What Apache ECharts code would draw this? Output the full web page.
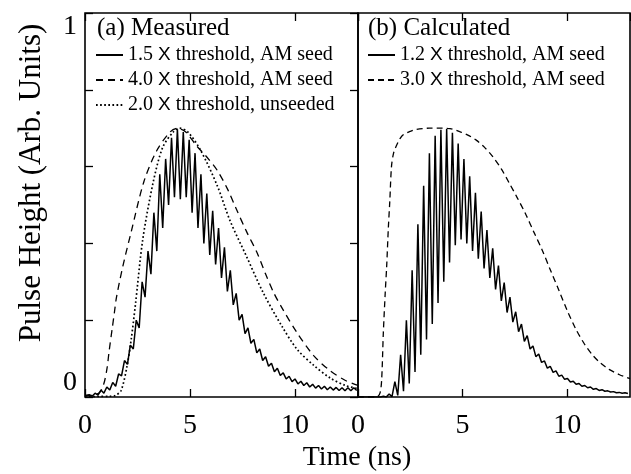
<!DOCTYPE html>
<html><head><meta charset="utf-8">
<script src="https://cdn.jsdelivr.net/npm/echarts@6.0.0/dist/echarts.min.js"></script>
<style>html,body{margin:0;padding:0;background:#fff}#c{width:631px;height:474px}</style>
</head><body><div id="c"></div><script>
// ---------- data ----------
const xTickLabels = ['0', '5', '10'];
const yTickLabels = ['0', '1'];
const panelTitles = ['(a) Measured', '(b) Calculated'];
const measuredNames = ['1.5 X threshold, AM seed', '4.0 X threshold, AM seed', '2.0 X threshold, unseeded'];
const calcNames = ['1.2 X threshold, AM seed', '3.0 X threshold, AM seed'];

// (a) 1.5 X threshold, AM seed : samples every half oscillation period (ns), starting at t0
const measuredSolidT0 = 0.2, measuredSolidDt = 0.14;
const measuredSolid = [
  0.006,0.002,0.01,0.005,0.018,0.01,0.026,0.018,0.038,0.028,
  0.06,0.055,0.095,0.085,0.135,0.125,0.2,0.18,0.3,0.26,
  0.38,0.32,0.48,0.38,0.58,0.44,0.62,0.5,0.675,0.52,
  0.697,0.515,0.69,0.52,0.67,0.48,0.635,0.44,0.58,0.4,
  0.53,0.37,0.485,0.345,0.44,0.31,0.39,0.275,0.33,0.24,
  0.27,0.2,0.215,0.165,0.18,0.14,0.15,0.115,0.125,0.095,
  0.105,0.08,0.088,0.066,0.075,0.056,0.063,0.047,0.054,0.04,
  0.047,0.034,0.041,0.03,0.037,0.026,0.033,0.023,0.03,0.021,
  0.028,0.019,0.026,0.018,0.025,0.017,0.024,0.016,0.024,0.016,
  0.024,0.017
];
// (a) 4.0 X threshold, AM seed : [time ns, height]
const measuredDashed = [
  [0,0.003],[0.4,0.005],[0.7,0.012],[0.9,0.035],[1.05,0.075],[1.15,0.12],[1.3,0.18],[1.4,0.22],
  [1.5,0.26],[1.8,0.34],[2.2,0.43],[2.8,0.56],[3.4,0.64],[4.05,0.69],[4.4,0.70],[4.8,0.69],
  [5.3,0.655],[5.8,0.625],[6.3,0.59],[6.8,0.54],[7.2,0.49],[7.7,0.43],[8.2,0.375],[8.6,0.32],
  [9.0,0.27],[9.4,0.23],[10.1,0.167],[10.9,0.107],[11.66,0.069],[12.4,0.043],[13,0.03]
];
// (a) 2.0 X threshold, unseeded
const measuredDotted = [
  [0,0.001],[1.2,0.002],[1.45,0.004],[1.72,0.017],[2.0,0.08],[2.2,0.15],[2.4,0.24],[2.75,0.41],
  [3.25,0.56],[3.7,0.65],[4.2,0.69],[4.5,0.70],[4.9,0.69],[5.5,0.643],[6.3,0.55],[6.9,0.46],
  [7.7,0.365],[8.5,0.27],[9.37,0.185],[10.1,0.124],[10.9,0.082],[11.66,0.05],[12.4,0.03],[13,0.022]
];
// (b) 1.2 X threshold, AM seed : samples every half oscillation period (ns), starting at t0
const calcSolidT0 = 0.1125, calcSolidDt = 0.1375;
const calcSolid = [
  0,0,0,0,0,0,0,0,0.002,0,
  0.008,0.001,0.04,0.004,0.11,0.015,0.2,0.035,0.33,0.065,
  0.45,0.11,0.55,0.15,0.635,0.19,0.68,0.245,0.696,0.3,
  0.698,0.35,0.688,0.395,0.66,0.41,0.62,0.4,0.575,0.38,
  0.532,0.36,0.483,0.335,0.435,0.31,0.387,0.28,0.342,0.25,
  0.298,0.22,0.26,0.195,0.222,0.17,0.19,0.145,0.16,0.125,
  0.133,0.105,0.112,0.09,0.094,0.075,0.08,0.064,0.068,0.054,
  0.057,0.046,0.048,0.039,0.041,0.033,0.035,0.028,0.03,0.024,
  0.026,0.02,0.022,0.017,0.019,0.015,0.016,0.013,0.014,0.011,
  0.012,0.01,0.011,0.009
];
// (b) 3.0 X threshold, AM seed
const calcDashed = [
  [0,0],[0.9,0],[1.05,0.01],[1.13,0.044],[1.21,0.166],[1.3,0.27],[1.37,0.34],[1.45,0.44],
  [1.52,0.51],[1.6,0.6],[1.7,0.635],[1.84,0.655],[2.0,0.672],[2.16,0.683],[2.5,0.692],[2.8,0.697],
  [3.4,0.7],[4.0,0.7],[4.4,0.699],[4.86,0.691],[5.25,0.682],[5.65,0.669],[6.05,0.65],[6.44,0.626],
  [6.85,0.594],[7.24,0.556],[7.6,0.52],[8.0,0.478],[8.4,0.43],[8.8,0.383],[9.2,0.33],[9.6,0.278],
  [10.0,0.225],[10.4,0.178],[10.8,0.14],[11.2,0.11],[11.6,0.088],[12.0,0.072],[12.5,0.058],[13.0,0.048]
];

// ---------- build ----------
function grid(values, t0, dt, lead) {
  return lead.concat(values.map((v, i) => [+(t0 + i * dt).toFixed(4), v]));
}
const SERIF = 'Liberation Serif';
const black = '#000';

const xBase = (gi, pos) => ({
  gridIndex: gi, type: 'value', min: 0, max: 13, interval: 5, position: pos,
  axisLine: { show: false },
  axisTick: { show: true, inside: true, length: 8, lineStyle: { color: black, width: 1.3 } },
  axisLabel: pos === 'bottom' ? {
    show: true, margin: 15, fontSize: 28, fontFamily: SERIF, color: black,
    showMaxLabel: false,
    formatter: v => { const i = [0, 5, 10].indexOf(v); return i >= 0 ? xTickLabels[i] : ''; }
  } : { show: false },
  splitLine: { show: false }
});

const legendText = {
  fontFamily: SERIF, fontSize: 20, color: black, lineHeight: 20,
  rich: { x: { fontFamily: 'Liberation Sans', fontSize: 19, color: black, lineHeight: 20 } }
};
const legendBase = (names, left) => ({
  data: names, left: left, top: 45, orient: 'vertical', padding: 0,
  itemWidth: 27, itemHeight: 12, itemGap: 5, selectedMode: false,
  itemStyle: { opacity: 0, borderWidth: 0 },
  textStyle: legendText,
  formatter: n => n.replace(' X ', ' {x|X} ')
});

const option = {
  animation: false,
  backgroundColor: '#fff',
  title: [
    { text: panelTitles[0], left: 97, top: 16, padding: 0,
      textStyle: { fontFamily: SERIF, fontSize: 25, fontWeight: 'normal', color: black } },
    { text: panelTitles[1], left: 368, top: 16, padding: 0,
      textStyle: { fontFamily: SERIF, fontSize: 25, fontWeight: 'normal', color: black } }
  ],
  legend: [legendBase(measuredNames, 95), legendBase(calcNames, 367)],
  grid: [
    { left: 85, top: 13, width: 273, height: 384, show: true, borderColor: black, borderWidth: 1.6, backgroundColor: 'transparent' },
    { left: 358, top: 13, width: 272, height: 384, show: true, borderColor: black, borderWidth: 1.6, backgroundColor: 'transparent' }
  ],
  xAxis: [xBase(0, 'bottom'), xBase(0, 'top'), xBase(1, 'bottom'), xBase(1, 'top')],
  yAxis: [
    { gridIndex: 0, type: 'value', min: 0, max: 1, interval: 0.2, position: 'left',
      axisLine: { show: false },
      axisTick: { show: true, inside: true, length: 8, lineStyle: { color: black, width: 1.3 } },
      axisLabel: { show: true, margin: 8, fontSize: 28, fontFamily: SERIF, color: black,
        verticalAlignMinLabel: 'bottom', verticalAlignMaxLabel: 'top',
        formatter: v => v === 0 ? yTickLabels[0] : (v === 1 ? yTickLabels[1] : '') },
      splitLine: { show: false },
      name: 'Pulse Height (Arb. Units)', nameLocation: 'middle', nameGap: 38,
      nameTextStyle: { fontFamily: SERIF, fontSize: 31, color: black, padding: [0, 0, 0, 44] } },
    { gridIndex: 1, type: 'value', min: 0, max: 1, interval: 0.2, position: 'right',
      axisLine: { show: false },
      axisTick: { show: true, inside: true, length: 8, lineStyle: { color: black, width: 1.3 } },
      axisLabel: { show: false }, splitLine: { show: false } }
  ],
  graphic: [
    { type: 'text', x: 357, y: 458,
      style: { text: 'Time (ns)', font: '28px "Liberation Serif"', fill: black,
               align: 'center', verticalAlign: 'middle', textAlign: 'center', textVerticalAlign: 'middle' } }
  ],
  series: [
    { name: measuredNames[0], type: 'line', xAxisIndex: 0, yAxisIndex: 0, symbol: 'none', showSymbol: false,
      data: grid(measuredSolid, measuredSolidT0, measuredSolidDt, [[0, 0.004]]),
      lineStyle: { color: black, width: 1.5 }, itemStyle: { color: black } },
    { name: measuredNames[1], type: 'line', xAxisIndex: 0, yAxisIndex: 0, symbol: 'none', showSymbol: false, smooth: 0.3,
      data: measuredDashed,
      lineStyle: { color: black, width: 1.3, type: [7, 5] }, itemStyle: { color: black } },
    { name: measuredNames[2], type: 'line', xAxisIndex: 0, yAxisIndex: 0, symbol: 'none', showSymbol: false, smooth: 0.3,
      data: measuredDotted,
      lineStyle: { color: black, width: 1.7, type: [1.7, 2.4] }, itemStyle: { color: black } },
    { name: calcNames[0], type: 'line', xAxisIndex: 2, yAxisIndex: 1, symbol: 'none', showSymbol: false,
      data: grid(calcSolid, calcSolidT0, calcSolidDt, [[0, 0]]),
      lineStyle: { color: black, width: 1.5 }, itemStyle: { color: black } },
    { name: calcNames[1], type: 'line', xAxisIndex: 2, yAxisIndex: 1, symbol: 'none', showSymbol: false, smooth: 0.3,
      data: calcDashed,
      lineStyle: { color: black, width: 1.3, type: [6, 4] }, itemStyle: { color: black } }
  ]
};
const chart = echarts.init(document.getElementById('c'), null, { renderer: 'canvas' });
chart.setOption(option);
</script></body></html>
